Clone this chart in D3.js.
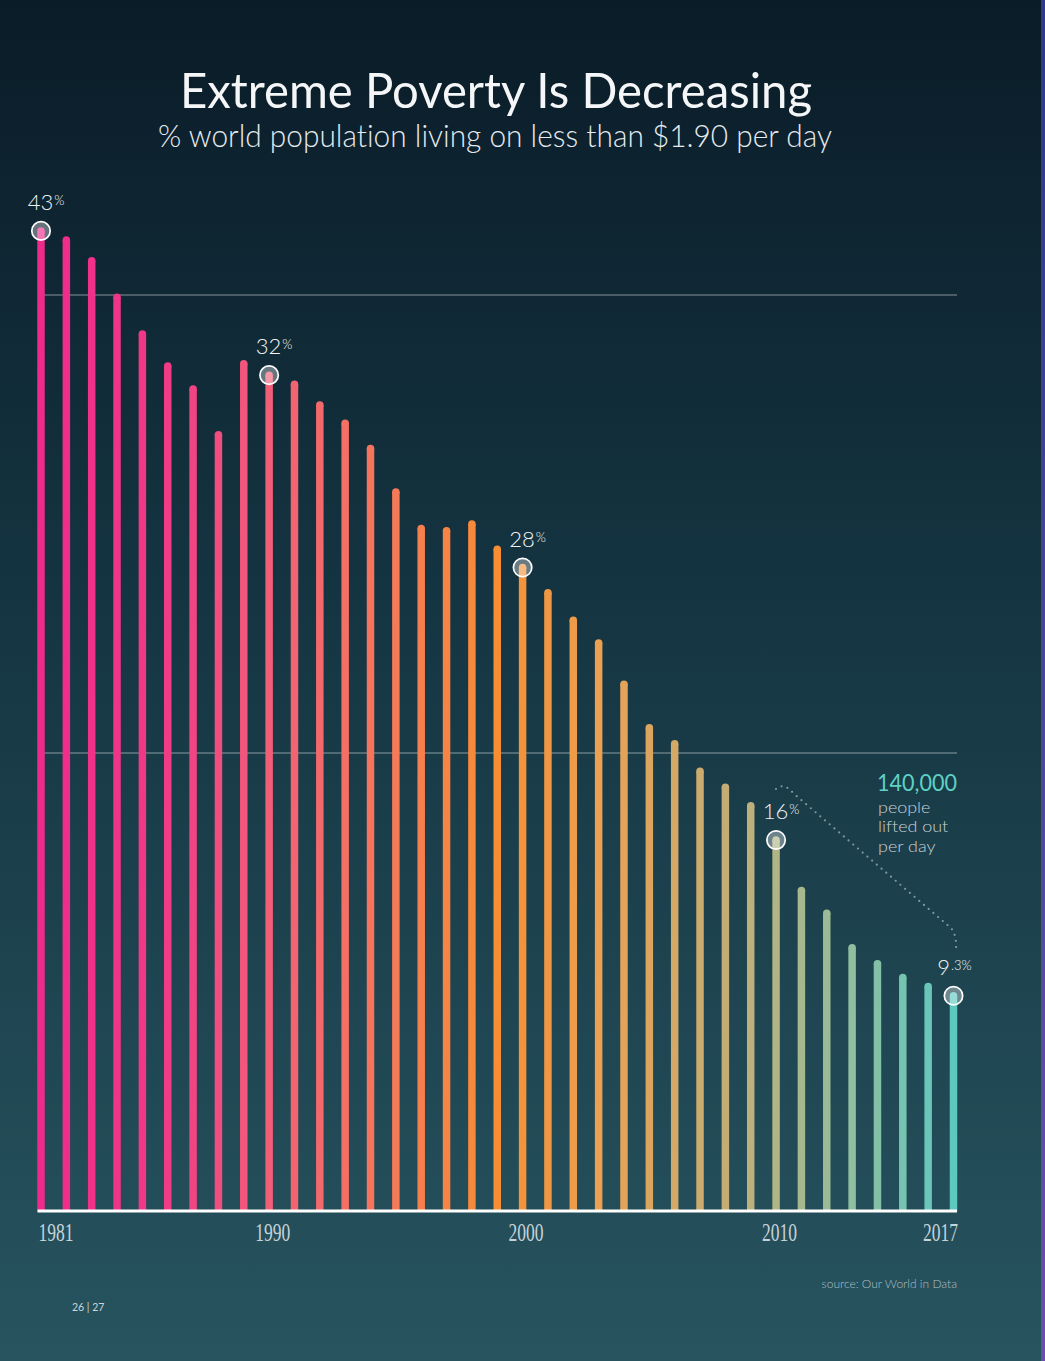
<!DOCTYPE html>
<html>
<head>
<meta charset="utf-8">
<script src="https://cdn.jsdelivr.net/npm/d3@7"></script>
<style>
  html, body { margin: 0; padding: 0; background: #0a1c28; }
  svg { display: block; }
  text { font-variant-ligatures: none; font-feature-settings: "liga" 0; }
</style>
</head>
<body>
<div id="chart"></div>
<script>
// ---------- data ----------
const years = [1981,1982,1983,1984,1985,1986,1987,1988,1989,1990,
               1991,1992,1993,1994,1995,1996,1997,1998,1999,2000,
               2001,2002,2003,2004,2005,2006,2007,2008,2009,2010,
               2011,2012,2013,2014,2015,2016,2017];
const povertyRate = [42.8,42.4,41.5,39.9,38.3,36.9,35.9,33.9,37.0,36.5,
                     36.1,35.2,34.4,33.3,31.4,29.8,29.7,30.0,28.9,28.1,
                     27.0,25.8,24.8,23.0,21.1,20.4,19.2,18.5,17.7,16.2,
                     14.0,13.0,11.5,10.8,10.2,9.8,9.4];
const calloutYears = [1981, 1990, 2000, 2010, 2017];
const calloutBig = ["43", "32", "28", "16", "9"];
const calloutSmall = ["%", "%", "%", "%", ".3%"];
const tickYears = [1981, 1990, 2000, 2010, 2017];
const gridValues = [20, 40];
const titleText = "Extreme Poverty Is Decreasing";
const subtitleText = "% world population living on less than $1.90 per day";
const noteNumber = "140,000";
const noteLines = ["people", "lifted out", "per day"];
const sourceText = "source: Our World in Data";
const pageText = "26 | 27";

// ---------- layout ----------
const W = 1045, H = 1361;
const base = 1211;
const x = d3.scaleLinear().domain([1981, 2017]).range([41, 953.5]);
const y = d3.scaleLinear().domain([0, 40]).range([base, 295]);
const barColor = d3.scaleLinear()
  .domain([1981, 1986, 1990, 1995, 1999, 2003, 2009, 2013, 2017])
  .range(["#ee2a8b", "#f03c86", "#f25e78", "#f57a57", "#f78e33", "#eba052", "#bcb07c", "#90bf9f", "#5cc8c0"])
  .interpolate(d3.interpolateRgb);

const svg = d3.select("#chart").append("svg")
  .attr("width", W).attr("height", H);

const defs = svg.append("defs");
const bg = defs.append("linearGradient").attr("id", "bg")
  .attr("x1", 0).attr("y1", 0).attr("x2", 0).attr("y2", 1);
bg.append("stop").attr("offset", "0%").attr("stop-color", "#0a1c28");
bg.append("stop").attr("offset", "45%").attr("stop-color", "#153542");
bg.append("stop").attr("offset", "100%").attr("stop-color", "#27545f");
const strip = defs.append("linearGradient").attr("id", "strip")
  .attr("x1", 0).attr("y1", 0).attr("x2", 0).attr("y2", 1);
strip.append("stop").attr("offset", "0%").attr("stop-color", "#2b3a8a");
strip.append("stop").attr("offset", "100%").attr("stop-color", "#6a50a8");

svg.append("rect").attr("width", W).attr("height", H).attr("fill", "url(#bg)");
svg.append("rect").attr("x", 1041).attr("y", 0).attr("width", 4).attr("height", H).attr("fill", "url(#strip)");

// title
svg.append("text")
  .attr("x", 496).attr("y", 108)
  .attr("text-anchor", "middle")
  .attr("font-family", "Lato, 'Open Sans', sans-serif")
  .attr("font-size", 49).attr("font-weight", 400)
  .attr("fill", "#f5f6f7")
  .attr("textLength", 632).attr("lengthAdjust", "spacingAndGlyphs")
  .text(titleText);
svg.append("text")
  .attr("x", 495).attr("y", 147)
  .attr("text-anchor", "middle")
  .attr("font-family", "Lato, 'Open Sans', sans-serif")
  .attr("font-size", 31).attr("font-weight", 300)
  .style("font-variant-ligatures", "none")
  .attr("fill", "#e6ebee")
  .attr("textLength", 674).attr("lengthAdjust", "spacingAndGlyphs")
  .text(subtitleText);

// grid lines
svg.append("g").selectAll("line").data(gridValues).join("line")
  .attr("x1", 38).attr("x2", 957)
  .attr("y1", d => y(d)).attr("y2", d => y(d))
  .attr("stroke", "rgba(255,255,255,0.33)").attr("stroke-width", 1.5);

// bars
const data = years.map((yr, i) => ({year: yr, value: povertyRate[i]}));
const bw = 7.5;
const bars = svg.append("g");
bars.selectAll("line").data(data).join("line")
  .attr("x1", d => x(d.year)).attr("x2", d => x(d.year))
  .attr("y1", d => y(d.value)).attr("y2", base)
  .attr("stroke", d => barColor(d.year))
  .attr("stroke-width", bw);
bars.selectAll("circle").data(data).join("circle")
  .attr("cx", d => x(d.year)).attr("cy", d => y(d.value))
  .attr("r", bw / 2)
  .attr("fill", d => barColor(d.year));

// baseline
svg.append("line")
  .attr("x1", 37.5).attr("x2", 957)
  .attr("y1", base).attr("y2", base)
  .attr("stroke", "#ffffff").attr("stroke-width", 3);

// dotted connector
const conn = d3.path();
conn.moveTo(776, 789);
conn.quadraticCurveTo(784, 782, 793, 793);
conn.lineTo(951, 928);
conn.quadraticCurveTo(957, 935, 956, 951);
svg.append("path").attr("d", conn.toString())
  .attr("fill", "none")
  .attr("stroke", "rgba(185,200,205,0.65)")
  .attr("stroke-width", 2.2)
  .attr("stroke-linecap", "round")
  .attr("stroke-dasharray", "0 6.2");

// callouts
const callouts = calloutYears.map((yr, i) => ({
  year: yr, value: povertyRate[years.indexOf(yr)], big: calloutBig[i], small: calloutSmall[i]
}));
const cg = svg.append("g");
cg.selectAll("circle").data(callouts).join("circle")
  .attr("cx", d => x(d.year)).attr("cy", d => y(d.value))
  .attr("r", 9.2)
  .attr("fill", "rgba(255,255,255,0.36)")
  .attr("stroke", "#ffffff").attr("stroke-width", 1.7);
const lbl = cg.selectAll("text").data(callouts).join("text")
  .attr("x", d => x(d.year) + (d.small.length > 1 ? 1 : 5))
  .attr("y", d => y(d.value) - 21)
  .attr("text-anchor", "middle")
  .attr("font-family", "Lato, 'Open Sans', sans-serif")
  .attr("font-weight", 300)
  .attr("fill", "#f1f3f4");
lbl.append("tspan").attr("font-size", 22).text(d => d.big);
lbl.append("tspan").attr("font-size", 13).attr("dy", -5).attr("dx", 1).text(d => d.small);

// note
svg.append("text")
  .attr("x", 877).attr("y", 791)
  .attr("font-family", "Lato, 'Open Sans', sans-serif")
  .attr("font-size", 24).attr("font-weight", 400)
  .attr("fill", "#5ed2c4")
  .attr("textLength", 80).attr("lengthAdjust", "spacingAndGlyphs")
  .text(noteNumber);
svg.append("g").selectAll("text").data(noteLines).join("text")
  .attr("x", 878).attr("y", (d, i) => 812.5 + i * 19.5)
  .attr("font-family", "Lato, 'Open Sans', sans-serif")
  .attr("font-size", 16).attr("font-weight", 300)
  .attr("fill", "#c9d3d7")
  .text(d => d)
  .each(function() {
    const w = this.getComputedTextLength();
    d3.select(this).attr("textLength", w * 1.12).attr("lengthAdjust", "spacingAndGlyphs");
  });

// x-axis year labels
const xAxis = d3.axisBottom(x).tickValues(tickYears).tickFormat(d3.format("d")).tickSize(0).tickPadding(0);
const axG = svg.append("g").attr("transform", `translate(0,${base})`).call(xAxis);
axG.select(".domain").remove();
axG.selectAll(".tick text")
  .attr("y", 30).attr("dy", 0)
  .attr("font-family", "'Liberation Serif', serif")
  .attr("font-size", 25)
  .attr("fill", "#c6d3d9")
  .attr("textLength", 35).attr("lengthAdjust", "spacingAndGlyphs")
  .attr("text-anchor", d => d === 1981 ? "start" : d === 2017 ? "end" : "middle")
  .attr("dx", d => d === 1981 ? -3 : d === 2017 ? 4 : 3);

// footer
svg.append("text")
  .attr("x", 957).attr("y", 1288)
  .attr("text-anchor", "end")
  .attr("font-family", "Lato, 'Open Sans', sans-serif")
  .attr("font-size", 12).attr("font-weight", 300)
  .attr("fill", "#aebfc5")
  .text(sourceText);
svg.append("text")
  .attr("x", 72).attr("y", 1311)
  .attr("font-family", "Lato, 'Open Sans', sans-serif")
  .attr("font-size", 10.5).attr("font-weight", 400)
  .attr("fill", "#cdd6d9")
  .text(pageText);
</script>
</body>
</html>
